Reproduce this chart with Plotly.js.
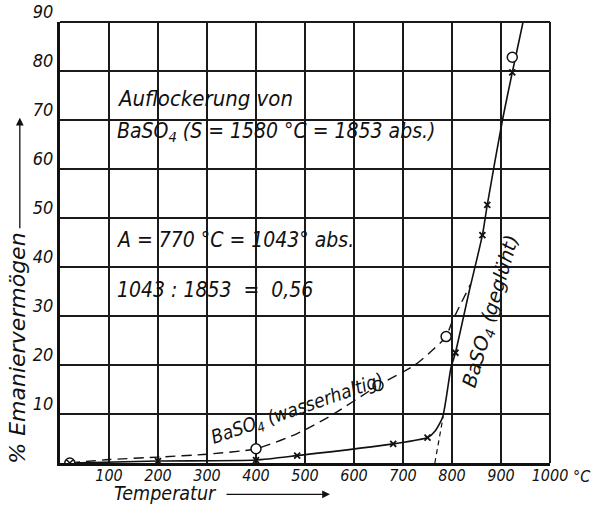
<!DOCTYPE html>
<html>
<head>
<meta charset="utf-8">
<script src="https://cdn.plot.ly/plotly-3.0.1.min.js"></script>
<style>html,body{margin:0;padding:0;background:#fff;}#chart{width:592px;height:506px;}</style>
</head>
<body>
<div id="chart"></div>
<script>
// BaSO4 (geglüht) – solid curve
const gegluehtTemp = [20, 200, 400, 484, 680, 750, 766, 781, 798, 807, 835, 862, 872, 903, 923, 945];
const gegluehtVal  = [0, 0.4, 0.6, 1.5, 3.9, 5.2, 6.6, 9.4, 19.5, 22.5, 35, 46.5, 52.7, 70, 79.7, 90];
// measured points (crosses) on the solid curve
const gegluehtPtTemp = [200, 400, 484, 680, 750, 807, 862, 872, 923];
const gegluehtPtVal  = [0.4, 0.6, 1.5, 3.9, 5.2, 22.5, 46.5, 52.7, 79.7];

// BaSO4 (wasserhaltig) – dashed curve
const wasserTemp = [20, 100, 200, 300, 400, 484, 550, 649, 723, 761, 788, 801, 838];
const wasserVal  = [0, 0.7, 1.2, 1.8, 2.9, 6.0, 9.5, 15.8, 19.9, 23.1, 25.8, 29, 36.5];
// measured points (circles)
const wasserPtTemp = [400, 649, 788, 923];
const wasserPtVal  = [2.9, 15.8, 25.8, 82.8];

// common origin point
const originTemp = [20];
const originVal = [0];

// extrapolation of the steep rise to A = 770 °C
const tangentTemp = [765, 782];
const tangentVal = [0, 9.5];

const xTickVals = [100, 200, 300, 400, 500, 600, 700, 800, 900, 1000];
const xTickText = ['100', '200', '300', '400', '500', '600', '700', '800', '900', '1000'];
const yTickVals = [10, 20, 30, 40, 50, 60, 70, 80, 90];
const yTickText = ['10', '20', '30', '40', '50', '60', '70', '80', '90'];

const NARROW = '"DejaVu Sans Condensed", "Liberation Sans Narrow", "Liberation Sans", sans-serif';
const WIDE = '"DejaVu Sans", sans-serif';
const ink = '#111';

const traces = [
  {x: gegluehtTemp, y: gegluehtVal, mode: 'lines', line: {color: ink, width: 1.6, shape: 'spline', smoothing: 0.6}, showlegend: false},
  {x: wasserTemp, y: wasserVal, mode: 'lines', line: {color: ink, width: 1.4, dash: '10px,6px', shape: 'spline', smoothing: 0.6}, showlegend: false},
  {x: tangentTemp, y: tangentVal, mode: 'lines', line: {color: ink, width: 1.2, dash: '5px,4px'}, showlegend: false},
  {x: gegluehtPtTemp, y: gegluehtPtVal, mode: 'markers', marker: {symbol: 'x-thin-open', size: 6, color: ink, line: {color: ink, width: 1.8}}, showlegend: false},
  {x: wasserPtTemp, y: wasserPtVal, mode: 'markers', marker: {symbol: 'circle', size: 10, color: '#fff', line: {color: ink, width: 1.5}}, showlegend: false},
  {x: originTemp, y: originVal, mode: 'markers', marker: {symbol: 'circle-x', size: 10, color: '#fff', line: {color: ink, width: 1.5}}, showlegend: false}
];

const f = (size, family) => ({family: family || NARROW, size: size, color: ink, style: 'italic'});
const layout = {
  width: 592, height: 506,
  margin: {l: 60, r: 42, t: 22, b: 43, pad: 0},
  paper_bgcolor: '#fff', plot_bgcolor: '#fff',
  showlegend: false,
  xaxis: {
    range: [0, 1000], tickvals: xTickVals, ticktext: xTickText,
    showgrid: true, gridcolor: '#1a1a1a', gridwidth: 2, zeroline: false,
    showline: true, linecolor: ink, linewidth: 3, ticks: '',
    tickfont: f(16), ticklabelstandoff: -4
  },
  yaxis: {
    range: [0, 90], tickvals: yTickVals, ticktext: yTickText,
    showgrid: true, gridcolor: '#1a1a1a', gridwidth: 2, zeroline: false,
    showline: true, linecolor: ink, linewidth: 3, ticks: '',
    tickfont: f(18), ticklabelshift: -10, ticklabelstandoff: 0
  },
  shapes: [
    {type: 'line', xref: 'paper', yref: 'paper', x0: 0, x1: 1, y0: 1, y1: 1, line: {color: '#1a1a1a', width: 2}},
    {type: 'line', xref: 'paper', yref: 'paper', x0: 1, x1: 1, y0: 0, y1: 1, line: {color: '#1a1a1a', width: 2}}
  ],
  annotations: [
    {x: 112, y: 74.4, xref: 'x', yref: 'y', xanchor: 'left', yanchor: 'middle', showarrow: false, text: 'Auflockerung von', font: f(22)},
    {x: 112, y: 67.6, xref: 'x', yref: 'y', xanchor: 'left', yanchor: 'middle', showarrow: false, text: 'BaSO<sub>4</sub> (S = 1580 °C = 1853 abs.)', font: f(21)},
    {x: 112, y: 45.5, xref: 'x', yref: 'y', xanchor: 'left', yanchor: 'middle', showarrow: false, text: 'A = 770 °C = 1043° abs.', font: f(21)},
    {x: 112, y: 35.3, xref: 'x', yref: 'y', xanchor: 'left', yanchor: 'middle', showarrow: false, text: '1043 : 1853  =  0,56', font: f(21)},
    {x: 484, y: 10.9, xref: 'x', yref: 'y', xanchor: 'center', yanchor: 'middle', showarrow: false, textangle: -19, text: 'BaSO<sub>4</sub> (wasserhaltig)', font: f(19)},
    {x: 880, y: 31, xref: 'x', yref: 'y', xanchor: 'center', yanchor: 'middle', showarrow: false, textangle: -74, text: 'BaSO<sub>4</sub> (geglüht)', font: f(19.5, WIDE)},
    {x: 1.065, y: -0.03, xref: 'paper', yref: 'paper', xanchor: 'center', yanchor: 'middle', showarrow: false, text: '°C', font: f(16)},
    {x: 0.106, y: -0.069, xref: 'paper', yref: 'paper', xanchor: 'left', yanchor: 'middle', showarrow: false, text: 'Temperatur', font: f(19.5)},
    {x: 0.551, y: -0.071, xref: 'paper', yref: 'paper', ax: -105, ay: 0, showarrow: true, arrowhead: 2, arrowsize: 1.2, arrowwidth: 1.3, arrowcolor: ink, text: ''},
    {x: -0.087, y: 0.26, xref: 'paper', yref: 'paper', xanchor: 'center', yanchor: 'middle', showarrow: false, textangle: -90, text: '% Emaniervermögen', font: f(22, WIDE)},
    {x: -0.082, y: 0.783, xref: 'paper', yref: 'paper', ax: 0, ay: 112, showarrow: true, arrowhead: 2, arrowsize: 1.2, arrowwidth: 1.3, arrowcolor: ink, text: ''}
  ]
};

Plotly.newPlot('chart', traces, layout, {displayModeBar: false, staticPlot: true});
</script>
</body>
</html>
